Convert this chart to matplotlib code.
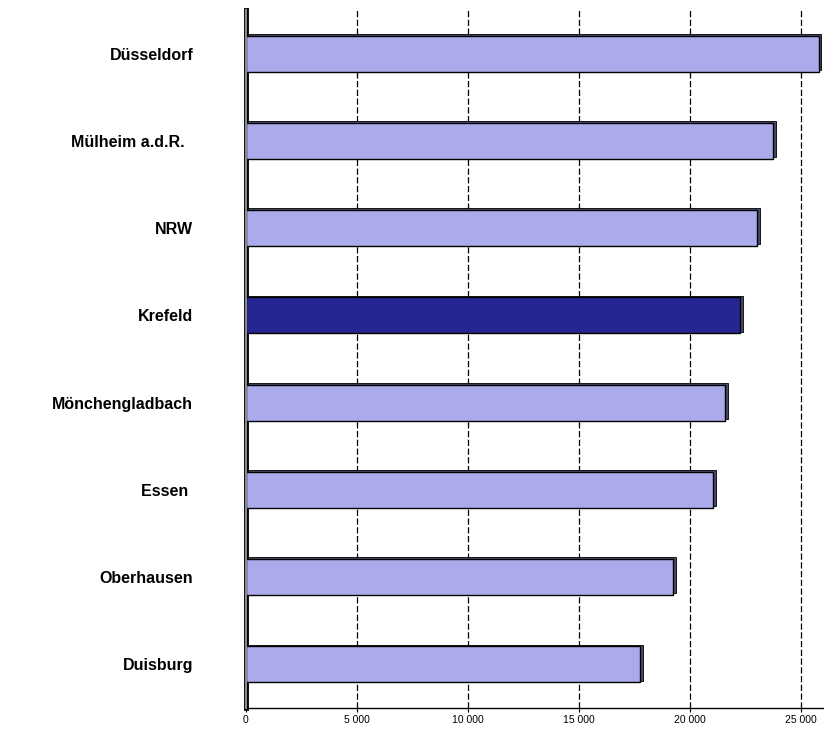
import matplotlib
matplotlib.use("Agg")
import matplotlib.pyplot as plt
from matplotlib.ticker import FuncFormatter

categories = ["Düsseldorf", "Mülheim a.d.R.  ", "NRW", "Krefeld", "Mönchengladbach",
              "Essen ", "Oberhausen", "Duisburg"]
values = [25800, 23740, 23010, 22260, 21580, 21040, 19240, 17760]
highlight = "Krefeld"
xticks = [0, 5000, 10000, 15000, 20000, 25000]

light = "#ABABEB"
dark = "#262693"

fig = plt.figure(figsize=(8.24, 7.30), dpi=100)
ax = fig.add_axes([246/824, 22/730, 577/824, 698/730])

n = len(categories)
ys = list(range(n - 1, -1, -1))
bh = 0.41
for y, v, c in zip(ys, values, categories):
    col = dark if c == highlight else light
    # 3D depth shadow
    ax.barh(y + 0.02, v + 130, height=bh, left=0, color="#4a4a6e",
            edgecolor="black", linewidth=0.6, zorder=2)
    ax.barh(y, v, height=bh, color=col, edgecolor="black", linewidth=1.0, zorder=3)

ax.set_xlim(0, 26000)
ax.set_ylim(-0.5, n - 0.5)
ax.set_xticks(xticks)
ax.xaxis.set_major_formatter(FuncFormatter(lambda x, p: f"{int(x):,}".replace(",", " ")))
ax.set_yticks(ys)
ax.set_yticklabels(categories, fontfamily="Liberation Sans", fontweight="bold", fontsize=11.5)
ax.tick_params(axis="y", length=0, pad=38)
ax.tick_params(axis="x", length=3, width=0.8, labelsize=7.5, pad=2)
for lab in ax.get_xticklabels():
    lab.set_fontfamily("Liberation Sans")

ax.grid(axis="x", color="black", linestyle=(0, (5, 2)), linewidth=0.9, zorder=1)
ax.set_axisbelow(True)
for s in ["top", "right"]:
    ax.spines[s].set_visible(False)
ax.spines["left"].set_color("black")
ax.spines["left"].set_linewidth(3.5)
ax.spines["bottom"].set_linewidth(1)
ax.axvline(0, color="#8a8a8a", linewidth=1.5, zorder=5, clip_on=False)

fig.savefig("out.png", dpi=100)
